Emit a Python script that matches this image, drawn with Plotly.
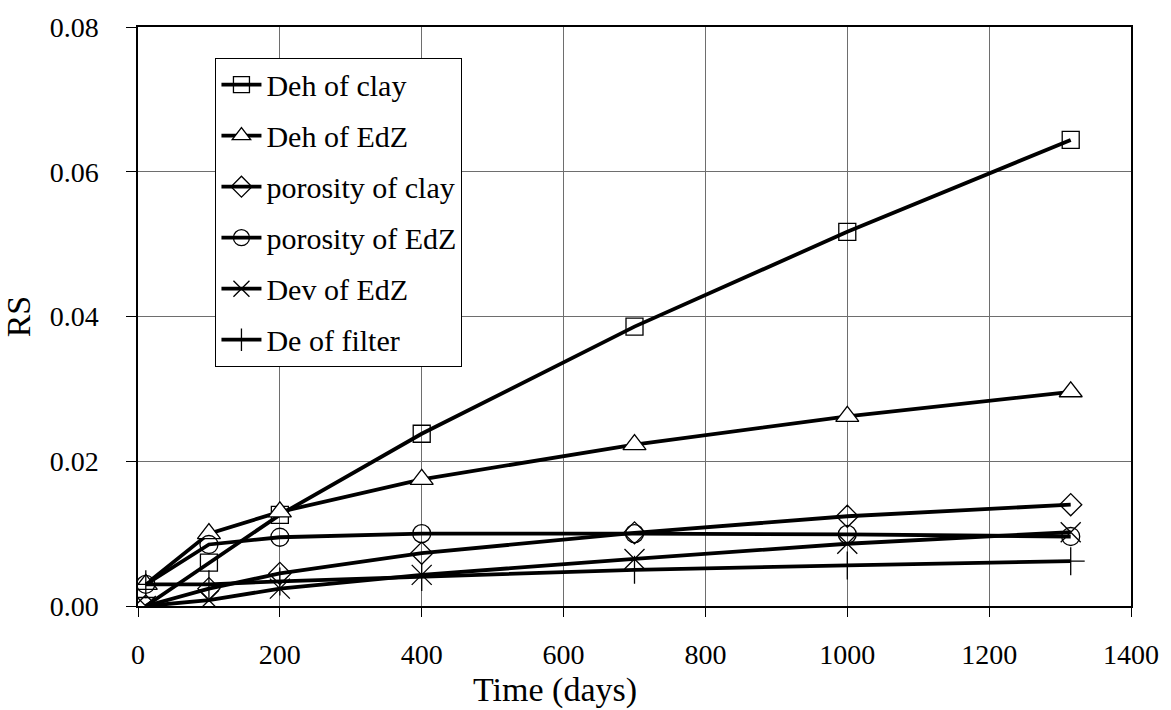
import plotly.graph_objects as go

time_days = [11, 100, 200, 400, 700, 1000, 1315]

deh_clay = [0.0, 0.0060, 0.0126, 0.0238, 0.0386, 0.0517, 0.0644]
deh_edz = [0.0030, 0.0100, 0.0130, 0.0175, 0.0223, 0.0262, 0.0296]
porosity_clay = [0.0, 0.0024, 0.0045, 0.0073, 0.0101, 0.0124, 0.0140]
porosity_edz = [0.0030, 0.0085, 0.0095, 0.0100, 0.0100, 0.0099, 0.0096]
dev_edz = [0.0, 0.0008, 0.0024, 0.0043, 0.0065, 0.0086, 0.0102]
de_filter = [0.0030, 0.0030, 0.0034, 0.0040, 0.0050, 0.0056, 0.0062]

series_names = ["Deh of clay", "Deh of EdZ", "porosity of clay",
                "porosity of EdZ", "Dev of EdZ", "De of filter"]
series_values = [deh_clay, deh_edz, porosity_clay, porosity_edz, dev_edz, de_filter]
symbols = ["square-open", "triangle-up", "diamond-open", "circle-open",
           "x-thin-open", "cross-thin-open"]
sizes = [17, 20, 17, 18, 20, 20]

x_title = "Time (days)"
y_title = "RS"

FONT = "Liberation Serif, Times New Roman, serif"

fig = go.Figure()
for i, (name, vals, sym, sz) in enumerate(zip(series_names, series_values, symbols, sizes)):
    fig.add_trace(go.Scatter(
        x=time_days, y=vals, name=name, mode="lines+markers",
        legendgroup=f"g{i}",
        line=dict(color="black", width=3.8),
        marker=dict(symbol=sym, size=sz, color="white" if sym == "triangle-up" else "black",
                    line=dict(color="black", width=1.3)),
    ))

fig.update_layout(
    width=1171, height=710,
    margin=dict(l=138, r=36, t=17, b=104),
    paper_bgcolor="white", plot_bgcolor="white",
    font=dict(family=FONT, size=28, color="black"),
    showlegend=True,
    legend=dict(
        x=0.078, y=0.947, xanchor="left", yanchor="top",
        bgcolor="white", bordercolor="black", borderwidth=1,
        font=dict(family=FONT, size=30, color="black"),
        traceorder="grouped", tracegroupgap=9,
        itemwidth=40,
    ),
    xaxis=dict(
        range=[0, 1400], dtick=200, tick0=0,
        showgrid=True, gridcolor="#6e6e6e", gridwidth=1,
        showline=True, linecolor="black", linewidth=1.5, mirror=True,
        ticks="outside", ticklen=9, tickcolor="black", tickwidth=1,
        ticklabelstandoff=14,
        zeroline=False,
    ),
    yaxis=dict(
        range=[0, 0.08], dtick=0.02, tick0=0, tickformat=".2f",
        showgrid=True, gridcolor="#6e6e6e", gridwidth=1,
        showline=True, linecolor="black", linewidth=1.5, mirror=True,
        ticks="outside", ticklen=10, tickcolor="black", tickwidth=1,
        ticklabelstandoff=22,
        zeroline=False,
    ),
    annotations=[
        dict(text=x_title, xref="paper", yref="paper", x=0.42, y=-0.145,
             xanchor="center", yanchor="middle", showarrow=False,
             font=dict(family=FONT, size=34, color="black")),
        dict(text=y_title, xref="paper", yref="paper", x=-0.12, y=0.5,
             xanchor="center", yanchor="middle", showarrow=False, textangle=-90,
             font=dict(family=FONT, size=34, color="black")),
    ],
)

fig.write_html("out.html")
